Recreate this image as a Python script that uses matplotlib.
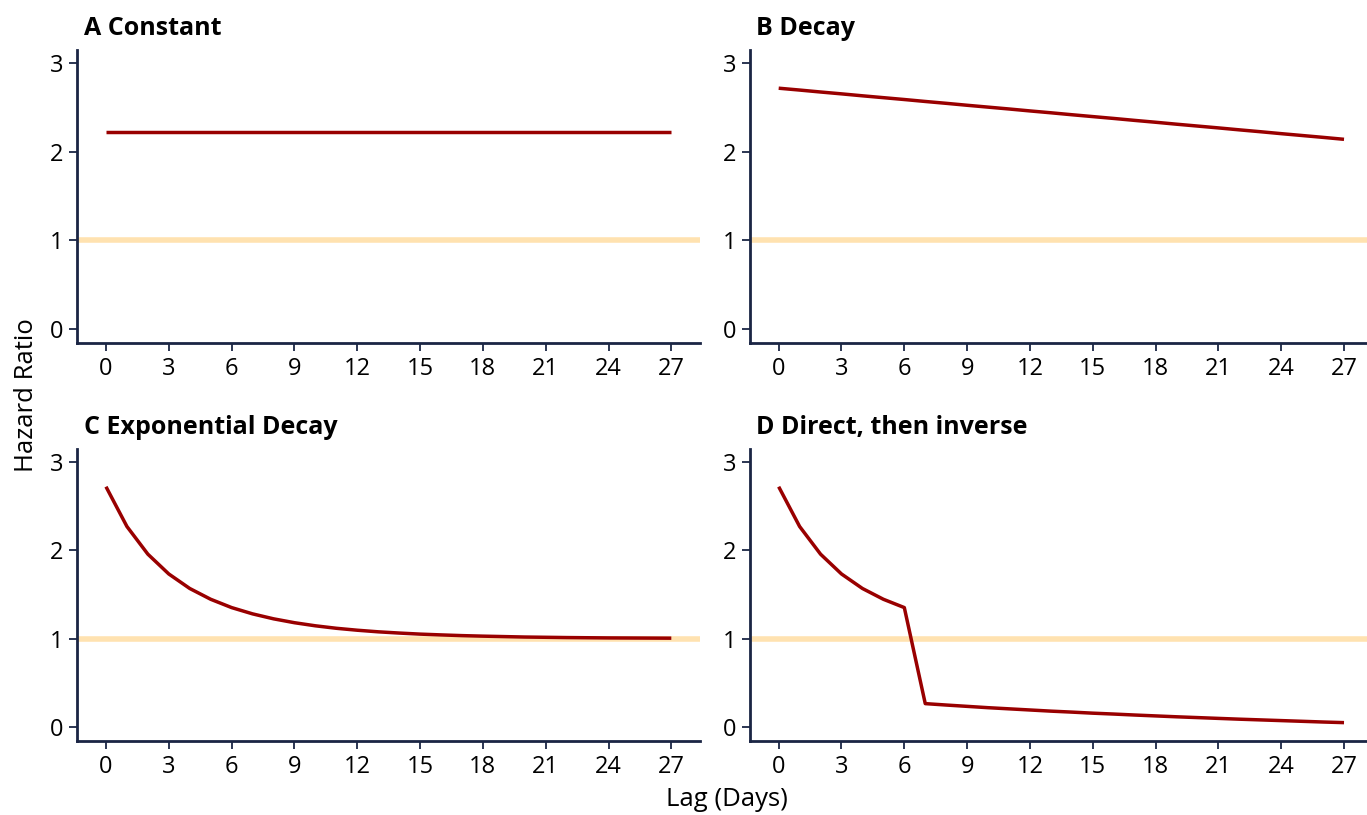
import matplotlib
matplotlib.use("Agg")
import matplotlib.pyplot as plt

lags = list(range(28))
constant = [2.226] * 28
decay = [2.718, 2.697, 2.675, 2.654, 2.632, 2.611, 2.590, 2.568, 2.547, 2.525,
         2.504, 2.483, 2.461, 2.440, 2.418, 2.397, 2.376, 2.354, 2.333, 2.311,
         2.290, 2.269, 2.247, 2.226, 2.204, 2.183, 2.162, 2.140]
exp_decay = [2.718, 2.268, 1.955, 1.731, 1.567, 1.445, 1.351, 1.280, 1.224, 1.180,
             1.145, 1.117, 1.095, 1.077, 1.063, 1.051, 1.042, 1.034, 1.028, 1.023,
             1.018, 1.015, 1.012, 1.010, 1.008, 1.007, 1.006, 1.005]
direct_inverse = [2.718, 2.268, 1.955, 1.731, 1.567, 1.445, 1.351, 0.265, 0.249, 0.234,
                  0.219, 0.206, 0.193, 0.180, 0.169, 0.157, 0.147, 0.136, 0.126, 0.116,
                  0.107, 0.098, 0.089, 0.081, 0.073, 0.065, 0.057, 0.050]
titles = ["A Constant", "B Decay", "C Exponential Decay", "D Direct, then inverse"]
series = [constant, decay, exp_decay, direct_inverse]
xticks = [0, 3, 6, 9, 12, 15, 18, 21, 24, 27]
yticks = [0, 1, 2, 3]

plt.rcParams['font.family'] = ['Open Sans', 'DejaVu Sans']

W, H = 1367, 815
fig = plt.figure(figsize=(W / 100, H / 100), dpi=100)

navy = "#1a2544"
red = "#990000"
peach = "#ffe2b0"

lefts = [77.3, 750.0]
rows = [(50.0, 342.7), (448.5, 741.2)]
width = 622.7

for i in range(4):
    r, c = divmod(i, 2)
    top, bottom = rows[r]
    ax = fig.add_axes([lefts[c] / W, 1 - bottom / H, width / W, (bottom - top) / H])
    ax.axhline(1, color=peach, lw=4.0, zorder=1)
    ax.plot(lags, series[i], color=red, lw=2.5, zorder=2, solid_capstyle='butt')
    ax.set_xlim(-1.37, 28.37)
    ax.set_ylim(-0.16, 3.15)
    ax.set_xticks(xticks)
    ax.set_yticks(yticks)
    for s in ["top", "right"]:
        ax.spines[s].set_visible(False)
    for s in ["left", "bottom"]:
        ax.spines[s].set_color(navy)
        ax.spines[s].set_linewidth(2.0)
    ax.tick_params(axis='both', direction='out', length=6, width=1.3, color=navy,
                   labelsize=17, labelcolor='black', pad=4)
    ax.text(0.01, 1.03, titles[i], transform=ax.transAxes, fontsize=18,
            fontweight='bold', ha='left', va='bottom')

fig.text(727 / W, 1 - 800 / H, "Lag (Days)", ha='center', va='center', fontsize=18.5)
fig.text(27 / W, 1 - 395 / H, "Hazard Ratio", ha='center', va='center', fontsize=18.5,
         rotation=90)

fig.savefig("out.png", dpi=100)
